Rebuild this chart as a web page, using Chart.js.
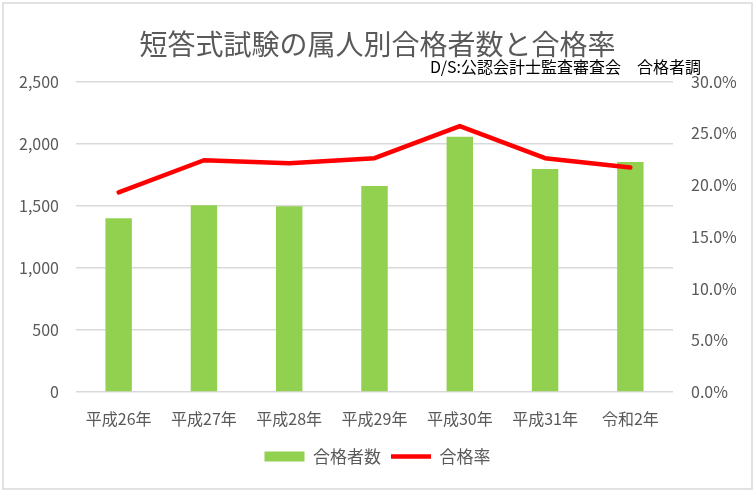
<!DOCTYPE html>
<html lang="ja">
<head>
<meta charset="utf-8">
<title>短答式試験の属人別合格者数と合格率</title>
<script src="https://cdn.jsdelivr.net/npm/chart.js@4"></script>
<style>
    html, body { margin: 0; padding: 0; background: #fff; }
    #wrap { width: 755px; height: 491px; position: relative; }
</style>
</head>
<body>
<div id="wrap"><canvas id="passChart" width="755" height="491"></canvas></div>
<script>
// --- データ ---
const years = ['平成26年', '平成27年', '平成28年', '平成29年', '平成30年', '平成31年', '令和2年'];
const passCount = [1400, 1505, 1497, 1660, 2056, 1797, 1853];
const passRate = [19.3, 22.4, 22.1, 22.6, 25.7, 22.6, 21.7];

const chartTitle = '短答式試験の属人別合格者数と合格率';
const sourceNote = 'D/S:公認会計士監査審査会　合格者調';

const FONT = "'Noto Sans CJK JP', 'Noto Sans', sans-serif";
const GREY = '#595959';

// 外枠と出典テキスト
const framePlugin = {
    id: 'frame',
    beforeDraw(chart) {
        const ctx = chart.ctx;
        ctx.save();
        ctx.strokeStyle = '#d9d9d9';
        ctx.lineWidth = 1.5;
        ctx.strokeRect(3, 3, chart.width - 6, chart.height - 5);
        ctx.restore();
    },
    afterDraw(chart) {
        const ctx = chart.ctx;
        const area = chart.chartArea;
        ctx.save();
        ctx.font = '16px ' + FONT;
        ctx.fillStyle = '#000';
        ctx.textAlign = 'right';
        ctx.textBaseline = 'middle';
        ctx.fillText(sourceNote, area.right + 28, area.top - 15);
        ctx.restore();
    }
};

const ctx = document.getElementById('passChart').getContext('2d');
new Chart(ctx, {
    data: {
        labels: years,
        datasets: [
            {
                type: 'bar',
                label: '合格者数',
                data: passCount,
                backgroundColor: '#92d050',
                borderWidth: 0,
                barPercentage: 0.31,
                categoryPercentage: 1,
                yAxisID: 'y',
                order: 1,
                pointStyle: 'rect'
            },
            {
                type: 'line',
                label: '合格率',
                data: passRate,
                borderColor: '#ff0000',
                backgroundColor: '#ff0000',
                borderWidth: 4.5,
                borderCapStyle: 'round',
                borderJoinStyle: 'round',
                pointRadius: 0,
                tension: 0,
                yAxisID: 'y1',
                order: 0,
                pointStyle: 'line'
            }
        ]
    },
    plugins: [framePlugin],
    options: {
        responsive: false,
        animation: false,
        layout: { padding: { top: 0, left: 0, right: 0, bottom: 16 } },
        scales: {
            x: {
                grid: { display: false },
                border: { display: false },
                ticks: { color: GREY, font: { family: FONT, size: 16 }, padding: 9, maxRotation: 0, autoSkip: false },
                afterFit(scale) { scale.height = 46; }
            },
            y: {
                position: 'left',
                min: 0,
                max: 2500,
                ticks: {
                    stepSize: 500,
                    color: GREY,
                    padding: 17,
                    font: { family: FONT, size: 16 },
                    callback: v => v.toLocaleString('en-US')
                },
                grid: { color: '#d9d9d9', lineWidth: 1.5, drawTicks: false },
                border: { display: false },
                afterFit(scale) { scale.width = 76; }
            },
            y1: {
                position: 'right',
                min: 0,
                max: 30,
                ticks: {
                    stepSize: 5,
                    color: GREY,
                    padding: 18,
                    font: { family: FONT, size: 16 },
                    callback: v => v.toFixed(1) + '%'
                },
                grid: { display: false, drawTicks: false },
                border: { display: false },
                afterFit(scale) { scale.width = 82; }
            }
        },
        plugins: {
            title: {
                display: true,
                text: chartTitle,
                color: GREY,
                font: { family: FONT, size: 28, weight: 'normal' },
                padding: { top: 28, bottom: 20 }
            },
            legend: {
                position: 'bottom',
                labels: {
                    usePointStyle: true,
                    pointStyleWidth: 40,
                    boxHeight: 10,
                    color: GREY,
                    padding: 10,
                    font: { family: FONT, size: 17 },
                    sort: (a, b) => a.datasetIndex - b.datasetIndex
                }
            },
            tooltip: { enabled: false }
        }
    }
});
</script>
</body>
</html>
